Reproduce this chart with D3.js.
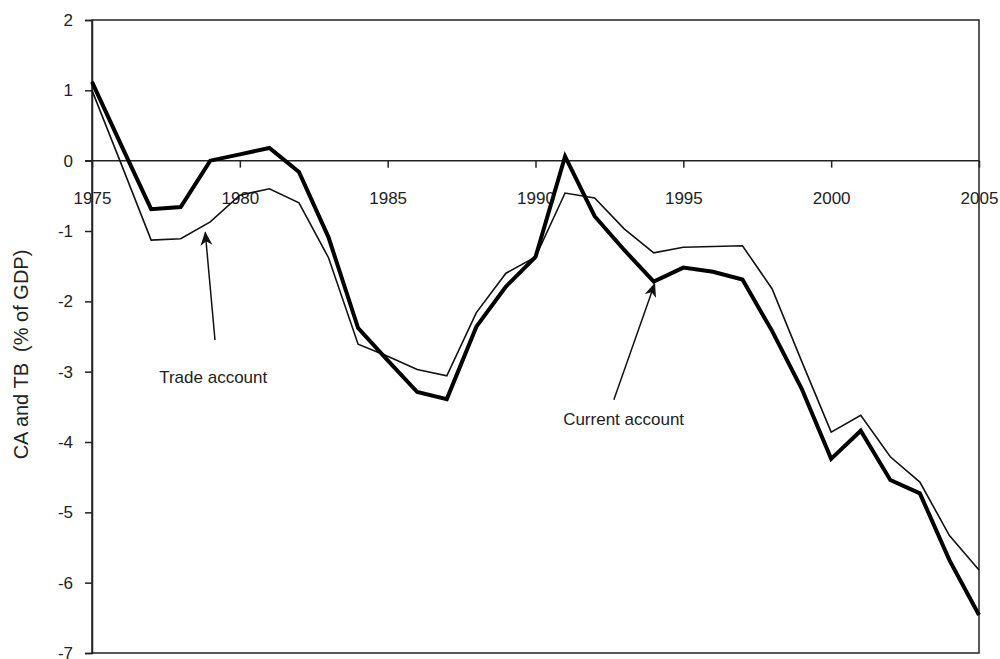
<!DOCTYPE html>
<html>
<head>
<meta charset="utf-8">
<script src="https://cdn.jsdelivr.net/npm/d3@7"></script>
<style>
  html, body { margin: 0; padding: 0; background: #fff; }
  svg { display: block; font-family: "Liberation Sans", Arial, sans-serif; }
</style>
</head>
<body>
<svg id="chart" width="1000" height="659"></svg>
<script>
const years = d3.range(1975, 2006);
const currentAccount = [1.12, 0.21, -0.69, -0.66, 0.00, 0.09, 0.18, -0.16, -1.09, -2.38, -2.84, -3.29, -3.39, -2.36, -1.79, -1.37,
  0.06, -0.79, -1.27, -1.72, -1.52, -1.58, -1.69, -2.42, -3.24, -4.24, -3.84, -4.54, -4.73, -5.68, -6.46];
const tradeAccount = [1.00, -0.06, -1.13, -1.11, -0.87, -0.49, -0.40, -0.60, -1.38, -2.61, -2.78, -2.97, -3.06, -2.16, -1.60, -1.37,
  -0.46, -0.53, -0.97, -1.31, -1.23, -1.22, -1.21, -1.82, -2.85, -3.86, -3.62, -4.21, -4.57, -5.33, -5.82];
const yTicks = [2, 1, 0, -1, -2, -3, -4, -5, -6, -7];
const xTicks = [1975, 1980, 1985, 1990, 1995, 2000, 2005];
const yLabel = "CA and TB  (% of GDP)";
const annotations = [
  { text: "Trade account", tip: [1978.83, -1.02], tail: [1979.16, -2.55], label: [1979.1, -3.16] },
  { text: "Current account", tip: [1994.03, -1.75], tail: [1992.65, -3.4], label: [1992.98, -3.76] }
];

const svg = d3.select("#chart");
const x = d3.scaleLinear().domain([1975, 2005]).range([92, 979]);
const y = d3.scaleLinear().domain([-7, 2]).range([653, 20]);
const axisColor = "#222";

// frame
svg.append("rect")
  .attr("x", x(1975)).attr("y", y(2))
  .attr("width", x(2005) - x(1975)).attr("height", y(-7) - y(2))
  .attr("fill", "none").attr("stroke", axisColor).attr("stroke-width", 1.5);

// y axis
const yAxis = d3.axisLeft(y).tickValues(yTicks).tickSize(7).tickPadding(12).tickFormat(d3.format("d"));
const gy = svg.append("g").attr("transform", `translate(${x(1975)},0)`).call(yAxis);
gy.select(".domain").attr("stroke", axisColor).attr("stroke-width", 1.5);
gy.selectAll(".tick line").attr("stroke", axisColor).attr("stroke-width", 1.5);
gy.selectAll(".tick text").attr("font-size", 17).attr("fill", "#222")
  .attr("font-family", "Liberation Sans, Arial, sans-serif")
  .text(d => d < 0 ? "-" + Math.abs(d) : d);

// x axis on the zero line
const xAxis = d3.axisBottom(x).tickValues(xTicks).tickSize(7).tickPadding(24).tickFormat(d3.format("d"));
const gx = svg.append("g").attr("transform", `translate(0,${y(0)})`).call(xAxis);
gx.select(".domain").remove();
gx.selectAll(".tick line").attr("stroke", axisColor).attr("stroke-width", 1.5);
gx.selectAll(".tick text").attr("font-size", 17).attr("fill", "#222")
  .attr("font-family", "Liberation Sans, Arial, sans-serif");
svg.append("line")
  .attr("x1", x(1975) - 7).attr("x2", x(2005))
  .attr("y1", y(0)).attr("y2", y(0))
  .attr("stroke", axisColor).attr("stroke-width", 1.5);

// y label
svg.append("text")
  .attr("transform", `translate(28,${(y(2) + y(-7)) / 2 + 18}) rotate(-90)`)
  .attr("text-anchor", "middle")
  .attr("font-size", 20).attr("fill", "#222")
  .style("white-space", "pre")
  .attr("xml:space", "preserve")
  .text(yLabel);

// lines
const line = d3.line().x((d, i) => x(years[i])).y(d => y(d));
svg.append("path").datum(tradeAccount)
  .attr("d", line).attr("fill", "none").attr("stroke", "#111")
  .attr("stroke-width", 1.6).attr("stroke-linejoin", "miter");
svg.append("path").datum(currentAccount)
  .attr("d", line).attr("fill", "none").attr("stroke", "#000")
  .attr("stroke-width", 4).attr("stroke-linejoin", "miter");

// arrowhead marker
svg.append("defs").append("marker")
  .attr("id", "arrow")
  .attr("viewBox", "0 0 14 12")
  .attr("refX", 13).attr("refY", 6)
  .attr("markerWidth", 14).attr("markerHeight", 12)
  .attr("markerUnits", "userSpaceOnUse")
  .attr("orient", "auto")
  .append("path")
  .attr("d", "M0,0 L14,6 L0,12 L4,6 Z")
  .attr("fill", "#111");

annotations.forEach(a => {
  svg.append("line")
    .attr("x1", x(a.tail[0])).attr("y1", y(a.tail[1]))
    .attr("x2", x(a.tip[0])).attr("y2", y(a.tip[1]))
    .attr("stroke", "#111").attr("stroke-width", 1.5)
    .attr("marker-end", "url(#arrow)");
  svg.append("text")
    .attr("x", x(a.label[0])).attr("y", y(a.label[1]))
    .attr("text-anchor", "middle")
    .attr("font-size", 17).attr("fill", "#222")
    .text(a.text);
});
</script>
</body>
</html>
